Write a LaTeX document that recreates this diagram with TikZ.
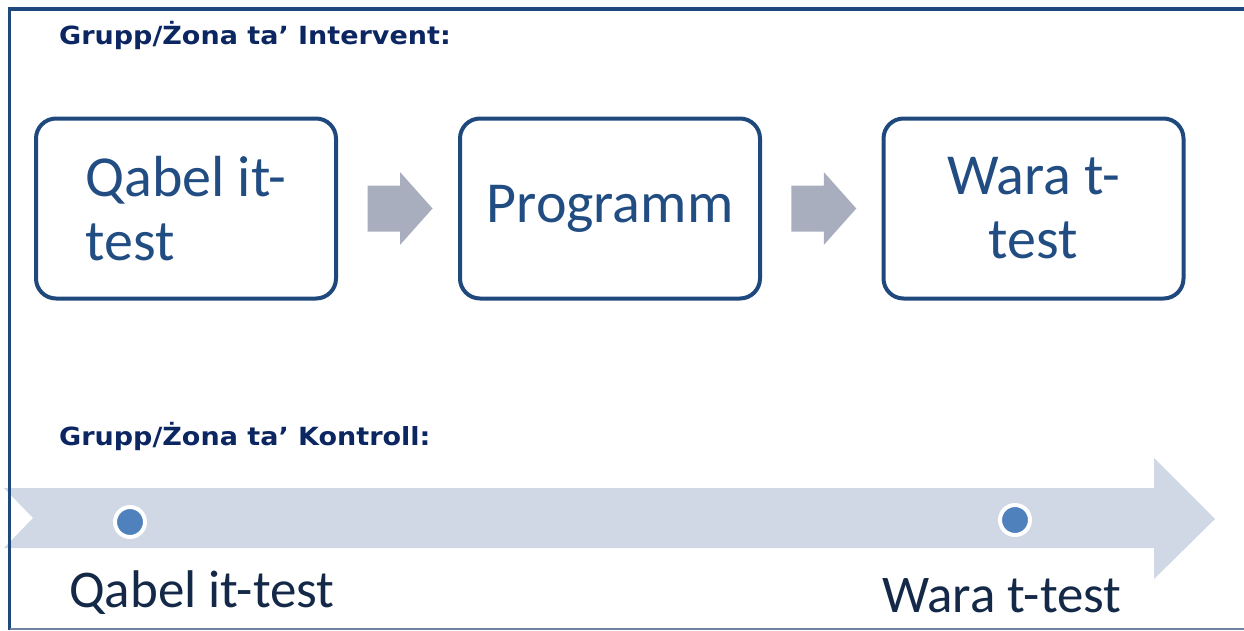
\documentclass[tikz,border=0pt]{standalone}
\usepackage{fontspec}
\setmainfont{Carlito}
\newfontfamily\titlefont{DejaVu Sans}
\usetikzlibrary{calc}
\definecolor{framec}{RGB}{31,73,125}
\definecolor{framebot}{RGB}{110,132,163}
\definecolor{boxc}{RGB}{31,73,125}
\definecolor{boxtext}{RGB}{33,77,130}
\definecolor{titlec}{RGB}{12,38,98}
\definecolor{grayarrow}{RGB}{168,174,190}
\definecolor{lightarrow}{RGB}{208,216,230}
\definecolor{dotc}{RGB}{79,129,189}
\definecolor{labelc}{RGB}{20,40,72}
\newcommand{\widetitle}[1]{\scalebox{1.08}[1]{#1}}
\tikzset{
  stagebox/.style={draw=boxc, line width=4pt, rounded corners=20pt, fill=white,
    minimum width=300pt, minimum height=180pt, inner sep=0pt,
    text=boxtext, font=\fontsize{58}{64}\selectfont},
  grouptitle/.style={anchor=base west, inner sep=0pt, text=titlec,
    font=\titlefont\bfseries\fontsize{25}{30}\selectfont},
  timedot/.style={circle, fill=dotc, draw=white, line width=4pt, minimum size=30pt, inner sep=0pt},
  timelabel/.style={anchor=base west, inner sep=0pt, text=labelc,
    font=\fontsize{53}{60}\selectfont}
}
\begin{document}
\begin{tikzpicture}[x=1pt,y=-1pt]
\useasboundingbox (0,0) rectangle (1244,630);
% big light timeline arrow
\fill[lightarrow] (4,488) -- (1154,488) -- (1154,458) -- (1215,519) -- (1154,579) -- (1154,548) -- (4,548) -- (33,518) -- cycle;
% frame
\draw[framec, line width=4pt] (8,9) -- (1244,9);
\draw[framec, line width=3pt] (9.5,7) -- (9.5,630);
\draw[framebot, line width=2pt] (9.5,628.5) -- (1244,628.5);
% titles
\node[grouptitle] (t1) at (59,44) {\widetitle{Grupp/Żona ta’ Intervent:}};
\node[grouptitle] (t2) at (59,445) {\widetitle{Grupp/Żona ta’ Kontroll:}};
% boxes
\node[stagebox, align=left] (b1) at (186,208.5) {Qabel it-\\test};
\node[stagebox, align=center] (b2) at (610,208.5) {Programm};
\node[stagebox, align=center] (b3) at (1033.5,208.5) {Wara t-\\test};
% gray block arrows between boxes
\coordinate (m1) at ($(b1.east)!0.5!(b2.west)+(2,0)$);
\coordinate (m2) at ($(b2.east)!0.5!(b3.west)+(2,0)$);
\foreach \m in {m1,m2}{
  \fill[grayarrow] ($(\m)+(-32.5,-23)$) -- ($(\m)+(0,-23)$) -- ($(\m)+(0,-36.5)$)
    -- ($(\m)+(32.5,0)$) -- ($(\m)+(0,36.5)$) -- ($(\m)+(0,23)$)
    -- ($(\m)+(-32.5,23)$) -- cycle;
}
% timeline dots and labels
\node[timedot] (d1) at (130,522) {};
\node[timedot] (d2) at (1015,520) {};
\node[timelabel] (l1) at (69,607) {Qabel it-test};
\node[timelabel] (l2) at (882,612) {Wara t-test};
\end{tikzpicture}
\end{document}
